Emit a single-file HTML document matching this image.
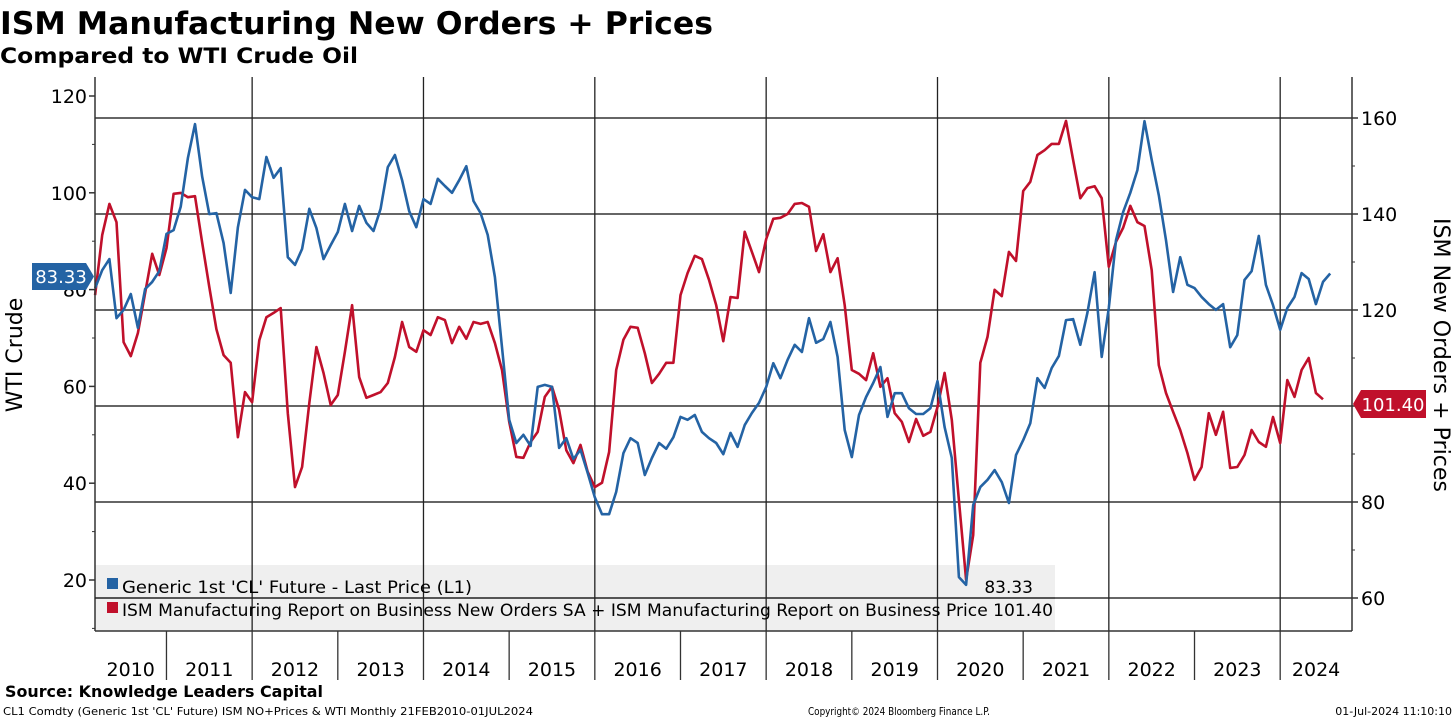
<!DOCTYPE html>
<html><head><meta charset="utf-8">
<style>
html,body{margin:0;padding:0;background:#fff;}
svg{display:block;font-family:"DejaVu Sans","Liberation Sans",sans-serif;}
</style></head>
<body>
<svg id="chart" width="1456" height="719" viewBox="0 0 1456 719">
  <text x="0" y="34" font-size="31" font-weight="bold" textLength="713" lengthAdjust="spacingAndGlyphs">ISM Manufacturing New Orders + Prices</text>
  <text x="0" y="63" font-size="21" font-weight="bold" textLength="358" lengthAdjust="spacingAndGlyphs">Compared to WTI Crude Oil</text>
  <g id="grid"></g>
  <rect x="95" y="565" width="960" height="66" fill="#efefef"/>
  <g id="gridv"></g>
  <g id="series"></g>
  <g id="axes"></g>
  <g>
    <line x1="95" y1="598" x2="1055" y2="598" stroke="#222" stroke-width="1.5"/>
    <rect x="107" y="578" width="11" height="11" fill="#2463a4"/>
    <text x="122" y="593" font-size="17" textLength="350" lengthAdjust="spacingAndGlyphs">Generic 1st 'CL' Future - Last Price (L1)</text>
    <text x="1033" y="593" font-size="17" text-anchor="end">83.33</text>
    <rect x="107" y="602" width="11" height="11" fill="#c0102b"/>
    <text x="122" y="616" font-size="17" textLength="931" lengthAdjust="spacingAndGlyphs">ISM Manufacturing Report on Business New Orders SA + ISM Manufacturing Report on Business Price 101.40</text>
  </g>
  <text transform="translate(22,355) rotate(-90)" font-size="22" text-anchor="middle">WTI Crude</text>
  <text transform="translate(1434,355) rotate(90)" font-size="22" text-anchor="middle" textLength="274" lengthAdjust="spacingAndGlyphs">ISM New Orders + Prices</text>
  <g>
    <path d="M32,263 L86,263 L94,276.5 L86,290 L32,290 Z" fill="#2463a4"/>
    <text x="61" y="283" font-size="18" fill="#fff" text-anchor="middle">83.33</text>
  </g>
  <g>
    <path d="M1353,404 L1361,390 L1426,390 L1426,418 L1361,418 Z" fill="#c0102b"/>
    <text x="1393" y="411" font-size="18" fill="#fff" text-anchor="middle">101.40</text>
  </g>
  <text x="5" y="697" font-size="16" font-weight="bold" textLength="318" lengthAdjust="spacingAndGlyphs">Source: Knowledge Leaders Capital</text>
  <text x="3" y="715" font-size="11" textLength="530" lengthAdjust="spacingAndGlyphs">CL1 Comdty (Generic 1st 'CL' Future) ISM NO+Prices &amp; WTI  Monthly 21FEB2010-01JUL2024</text>
  <text x="808" y="715" font-size="11" textLength="182" lengthAdjust="spacingAndGlyphs">Copyright© 2024 Bloomberg Finance L.P.</text>
  <text x="1452" y="715" font-size="11" text-anchor="end">01-Jul-2024 11:10:10</text>
</svg>
<script>
const startYear = 2010, startMonth = 2; // Feb 2010, monthly
const wtiValues = [80.3,84.0,86.3,74.1,75.8,79.1,72.1,80.1,81.6,83.8,91.5,92.3,97.1,107.2,114.2,103.3,95.6,95.8,89.6,79.3,92.9,100.6,99.1,98.7,107.4,103.1,105.1,86.7,85.1,88.4,96.7,92.7,86.3,89.2,91.9,97.7,92.1,97.3,93.8,92.1,96.7,105.3,107.8,102.6,96.2,92.9,98.7,97.7,102.9,101.4,100.0,102.6,105.5,98.3,95.8,91.3,82.6,68.1,53.1,48.3,50.0,47.7,59.9,60.3,59.9,47.3,49.3,45.0,46.9,42.1,37.1,33.6,33.6,38.2,46.2,49.3,48.3,41.7,45.2,48.3,47.1,49.5,53.7,53.1,54.1,50.6,49.3,48.3,46.0,50.4,47.5,52.0,54.5,56.6,59.9,64.8,61.7,65.5,68.6,67.1,74.1,69.0,69.8,73.3,66.1,51.0,45.4,54.1,57.8,60.7,64.0,53.7,58.6,58.6,55.5,54.3,54.3,55.5,61.1,51.6,45.2,20.6,19.0,35.5,39.2,40.7,42.7,40.2,35.9,45.8,48.9,52.4,61.7,59.7,63.8,66.3,73.7,73.9,68.6,75.2,83.6,66.1,76.2,90.2,96.0,100.0,104.7,114.8,106.8,99.5,90.2,79.5,86.7,81.0,80.3,78.5,77.0,75.8,77.0,68.1,70.6,82.0,83.8,91.1,81.0,76.8,71.7,76.2,78.5,83.4,82.2,77.0,81.6,83.33];
const ismValues = [123.1,135.6,142.1,138.3,113.3,110.4,115.2,123.5,131.7,127.3,132.9,144.2,144.4,143.5,143.7,134.0,124.8,116.0,110.6,109.0,93.5,102.9,100.8,113.7,118.5,119.4,120.4,98.5,83.1,87.3,100.6,112.3,106.9,100.2,102.3,111.3,121.0,106.0,101.7,102.3,102.9,104.8,110.2,117.5,112.3,111.3,115.8,114.8,118.5,117.9,113.1,116.5,114.0,117.5,117.1,117.5,113.1,107.5,96.7,89.4,89.2,92.5,94.6,101.9,104.0,99.2,90.8,88.1,91.9,86.3,83.1,84.0,90.4,107.5,113.8,116.5,116.3,111.0,104.8,106.7,109.0,109.0,123.1,127.7,131.3,130.6,126.3,121.0,113.5,122.7,122.5,136.3,132.1,127.9,134.8,139.0,139.2,140.0,142.1,142.3,141.5,132.3,135.8,127.9,130.8,121.0,107.5,106.7,105.4,111.0,104.0,105.8,98.5,96.7,92.5,97.3,93.8,94.6,99.8,106.9,97.1,80.4,63.8,73.1,109.0,114.4,124.2,122.9,132.1,130.2,144.8,146.7,152.3,153.3,154.6,154.6,159.4,151.3,143.3,145.4,145.8,143.3,129.0,134.2,137.1,141.7,138.3,137.5,128.3,108.5,102.7,98.8,95.0,90.2,84.6,87.3,98.5,94.0,98.8,87.1,87.3,89.8,95.0,92.5,91.5,97.7,92.3,105.4,101.9,107.5,110.0,102.7,101.4];
const leftTicks = [20,40,60,80,100,120];
const rightTicks = [60,80,100,120,140,160];
const yearLabels = [2010,2011,2012,2013,2014,2015,2016,2017,2018,2019,2020,2021,2022,2023,2024];
const gridYears = [2012,2014,2016,2018,2020,2022,2024];

const NS = "http://www.w3.org/2000/svg";
const X0 = 95, X1 = 1352, YT = 77, YB = 631;
function xYear(t){ return 80.8 + (t - 2010) * 85.67; }
function xMonth(i){ return xYear(startYear + (startMonth + i) / 12); }
function yLeft(v){ return 96 + (120 - v) * 4.84; }
function yRight(v){ return 118 + (160 - v) * 4.8; }
function mk(tag, attrs, parent){
  const el = document.createElementNS(NS, tag);
  for (const k in attrs) el.setAttribute(k, attrs[k]);
  parent.appendChild(el); return el;
}
const grid = document.getElementById('grid');
const gridv = document.getElementById('gridv');
const axes = document.getElementById('axes');
const series = document.getElementById('series');

rightTicks.forEach(v => {
  const l = mk('line', {x1:X0, x2:X1, y1:yRight(v), y2:yRight(v), stroke:'#333', 'stroke-width':1.5}, grid);
  
  
});
gridYears.forEach(y => {
  const l = mk('line', {x1:xYear(y), x2:xYear(y), y1:YT, y2:YB, stroke:'#222', 'stroke-width':1.3}, gridv);
  
  
});

// axis frame
mk('line', {x1:X0, x2:X0, y1:YT, y2:YB, stroke:'#333', 'stroke-width':1.5}, axes);
mk('line', {x1:X1, x2:X1, y1:YT, y2:YB, stroke:'#333', 'stroke-width':1.5}, axes);
mk('line', {x1:X0, x2:X1, y1:YB, y2:YB, stroke:'#333', 'stroke-width':1.5}, axes);

leftTicks.forEach(v => {
  const y = yLeft(v);
  mk('line', {x1:X0-6, x2:X0, y1:y, y2:y, stroke:'#333', 'stroke-width':1.5}, axes);
  const t = mk('text', {x:X0-8, y:y+7, 'font-size':19, 'text-anchor':'end'}, axes);
  t.textContent = v;
  
  
  mk('line', {x1:X0-3, x2:X0, y1:yLeft(v-10), y2:yLeft(v-10), stroke:'#333', 'stroke-width':1}, axes);
});
rightTicks.forEach(v => {
  const y = yRight(v);
  mk('line', {x1:X1, x2:X1+6, y1:y, y2:y, stroke:'#333', 'stroke-width':1.5}, axes);
  const t = mk('text', {x:X1+9, y:y+7, 'font-size':19}, axes);
  t.textContent = v;
  
  
  if (v < 160) mk('line', {x1:X1, x2:X1+3, y1:yRight(v+10), y2:yRight(v+10), stroke:'#333', 'stroke-width':1}, axes);
});
yearLabels.forEach(y => {
  if (y > 2010) mk('line', {x1:xYear(y), x2:xYear(y), y1:YB, y2:680, stroke:'#333', 'stroke-width':1.3}, axes);
  const a = Math.max(xYear(y), X0), b = Math.min(xYear(y+1), X1);
  const t = mk('text', {x:(a+b)/2, y:676, 'font-size':19, 'text-anchor':'middle'}, axes);
  t.textContent = y;
  
  
});

function drawLine(vals, yFn, color, name){
  const d = vals.map((v,i) => (i ? 'L' : 'M') + xMonth(i).toFixed(1) + ',' + yFn(v).toFixed(1)).join(' ');
  const p = mk('path', {d:d, fill:'none', stroke:color, 'stroke-width':2.6, 'stroke-linejoin':'round'}, series);
  
  
}
drawLine(ismValues, yRight, '#c0102b', 'ism-line');
drawLine(wtiValues, yLeft, '#2463a4', 'wti-line');
</script>
</body></html>
